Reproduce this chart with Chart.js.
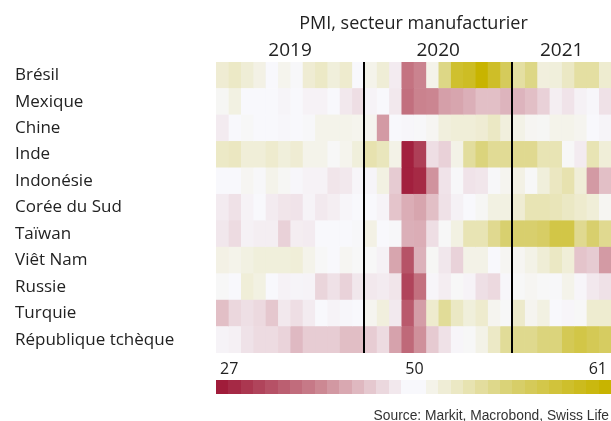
<!DOCTYPE html>
<html>
<head>
<meta charset="utf-8">
<script src="https://cdn.jsdelivr.net/npm/chart.js@4"></script>
<style>
    html, body { margin: 0; padding: 0; background: #fff; }
    canvas { display: block; }
</style>
</head>
<body>
<canvas id="chart" width="611" height="421"></canvas>
<script>
// Categories
const countries = ['Brésil', 'Mexique', 'Chine', 'Inde', 'Indonésie', 'Corée du Sud',
    'Taïwan', 'Viêt Nam', 'Russie', 'Turquie', 'République tchèque'];

const months = [
    '2019-01', '2019-02', '2019-03', '2019-04', '2019-05', '2019-06',
    '2019-07', '2019-08', '2019-09', '2019-10', '2019-11', '2019-12',
    '2020-01', '2020-02', '2020-03', '2020-04', '2020-05', '2020-06',
    '2020-07', '2020-08', '2020-09', '2020-10', '2020-11', '2020-12',
    '2021-01', '2021-02', '2021-03', '2021-04', '2021-05', '2021-06',
    '2021-07', '2021-08'
];

const years = ['2019', '2020', '2021'];

// PMI values (one per month)
const pmiBresil = [51.6, 52.1, 51.5, 50.9, 50.0, 50.6, 50.1, 51.6, 52.1, 51.3, 51.8, 50.0,
    50.7, 51.5, 48.8, 37.0, 38.8, 50.7, 54.6, 58.7, 59.2, 61.0, 59.0, 56.5,
    53.5, 54.6, 51.2, 51.3, 52.2, 53.5, 53.5, 51.7];
const pmiMexique = [50.3, 51.0, 50.0, 50.0, 50.0, 49.6, 50.0, 49.4, 49.4, 50.0, 48.5, 47.5,
    49.5, 50.0, 48.5, 36.5, 38.7, 39.0, 41.5, 42.0, 43.0, 44.5, 44.5, 43.5,
    43.5, 44.5, 46.3, 49.0, 48.0, 49.3, 49.8, 47.8];
const pmiChine = [48.8, 50.0, 50.2, 50.0, 50.0, 49.8, 50.0, 50.1, 50.7, 50.7, 50.7, 50.6,
    50.5, 41.0, 50.0, 49.8, 50.1, 50.4, 51.2, 51.4, 51.4, 51.6, 52.2, 51.2,
    50.8, 50.4, 50.3, 50.7, 50.7, 50.5, 50.0, 49.6];
const pmiInde = [52.1, 52.3, 51.4, 51.4, 51.8, 51.3, 51.6, 50.7, 50.7, 50.2, 50.6, 51.3,
    53.0, 52.5, 50.8, 27.5, 31.0, 47.5, 46.3, 50.8, 53.7, 55.0, 54.0, 54.0,
    54.2, 54.2, 52.8, 52.8, 50.2, 48.8, 52.8, 51.4];
const pmiIndonesie = [50.0, 50.0, 50.4, 50.1, 50.7, 50.3, 49.8, 49.4, 49.4, 48.2, 48.5, 49.7,
    49.6, 51.0, 45.7, 27.5, 28.6, 40.3, 48.0, 50.1, 48.0, 48.3, 50.1, 50.5,
    50.9, 50.2, 51.3, 52.3, 53.0, 51.4, 41.0, 44.5];
const pmiCoree = [48.8, 47.8, 49.4, 50.0, 48.8, 48.2, 48.0, 49.5, 48.6, 49.0, 49.7, 50.0,
    50.0, 49.5, 45.0, 42.8, 42.0, 44.5, 47.8, 49.3, 50.0, 50.3, 51.0, 51.0,
    51.6, 52.8, 52.8, 52.6, 52.2, 51.8, 51.4, 50.4];
const pmiTaiwan = [48.4, 47.2, 49.3, 49.0, 49.0, 46.3, 48.9, 48.8, 50.0, 50.0, 50.0, 50.1,
    50.9, 50.0, 50.1, 43.0, 42.8, 47.5, 50.2, 51.0, 52.8, 52.8, 54.2, 55.5,
    55.6, 55.6, 56.0, 57.5, 57.5, 54.2, 55.6, 54.2];
const pmiVietnam = [50.9, 50.7, 51.0, 51.3, 51.3, 51.3, 51.4, 50.7, 50.2, 50.0, 50.4, 50.2,
    50.2, 49.3, 42.0, 33.3, 43.2, 50.3, 48.4, 46.4, 50.8, 50.8, 50.0, 50.4,
    50.4, 50.8, 51.5, 52.2, 51.4, 45.0, 45.7, 41.0];
const pmiRussie = [50.2, 50.0, 51.4, 51.0, 50.0, 49.4, 49.6, 49.5, 46.6, 47.8, 46.4, 48.4,
    48.5, 48.8, 48.2, 31.6, 36.7, 49.7, 48.9, 50.2, 49.5, 47.6, 47.0, 49.8,
    50.2, 50.4, 50.2, 50.1, 50.7, 49.7, 48.5, 47.8];
const pmiTurquie = [44.5, 46.8, 47.6, 47.0, 45.3, 48.5, 47.5, 48.8, 50.0, 49.5, 49.8, 50.0,
    50.5, 51.2, 48.6, 34.0, 41.3, 51.8, 53.9, 52.2, 51.3, 51.8, 50.5, 50.2,
    51.9, 50.5, 51.0, 50.0, 49.7, 50.2, 51.7, 51.7];
const pmiTcheque = [49.5, 49.2, 47.9, 47.2, 47.2, 46.5, 44.0, 45.8, 45.8, 45.8, 44.4, 44.4,
    45.8, 47.2, 41.8, 35.8, 40.0, 45.6, 47.8, 49.7, 50.2, 50.8, 52.1, 53.9,
    54.3, 54.3, 55.0, 55.0, 56.8, 57.5, 56.8, 56.2];

const rows = [pmiBresil, pmiMexique, pmiChine, pmiInde, pmiIndonesie, pmiCoree,
    pmiTaiwan, pmiVietnam, pmiRussie, pmiTurquie, pmiTcheque];

// Colour scale ticks (diverging around 50)
const scaleMin = 27;
const scaleMid = 50;
const scaleMax = 61;

const colorStops = [
    [27, [160, 28, 58]],
    [38.5, [201, 128, 140]],
    [50, [248, 248, 252]],
    [55.5, [216, 208, 111]],
    [61, [200, 180, 0]]
];

const FONT = '"Open Sans", "DejaVu Sans", sans-serif';
const TEXT = '#222';

function pmiColor(v) {
    v = Math.max(scaleMin, Math.min(scaleMax, v));
    for (let i = 1; i < colorStops.length; i++) {
        const [v0, c0] = colorStops[i - 1];
        const [v1, c1] = colorStops[i];
        if (v <= v1) {
            const t = (v - v0) / (v1 - v0);
            const c = c0.map((x, k) => Math.round(x + (c1[k] - x) * t));
            return `rgb(${c[0]},${c[1]},${c[2]})`;
        }
    }
    return 'rgb(200,180,0)';
}

// Year labels sit in the middle of their months, lines mark each January
const yearTicks = years.map(y => {
    const idx = months.map((m, i) => m.startsWith(y) ? i : -1).filter(i => i >= 0);
    return { value: (idx[0] + idx[idx.length - 1] + 1) / 2, label: y };
});
const yearStarts = months.map((m, i) => (i > 0 && m.endsWith('-01')) ? i : -1).filter(i => i > 0);

// One dataset per month: a floating bar [i, i+1] in every country row
const datasets = months.map((m, i) => ({
    label: m,
    data: countries.map(() => [i, i + 1]),
    backgroundColor: rows.map(r => pmiColor(r[i])),
    borderWidth: 0,
    barPercentage: 1,
    categoryPercentage: 1,
    grouped: false
}));

const overlay = {
    id: 'overlay',
    afterDatasetsDraw(chart) {
        const { ctx, chartArea } = chart;
        const x = chart.scales.x;
        ctx.save();

        // year separators
        ctx.strokeStyle = '#000';
        ctx.lineWidth = 2;
        yearStarts.forEach(i => {
            const px = Math.round(x.getPixelForValue(i));
            ctx.beginPath();
            ctx.moveTo(px, chartArea.top);
            ctx.lineTo(px, chartArea.bottom);
            ctx.stroke();
        });

        // colour bar: 16 steps up to 50, 16 steps above
        const steps = 16;
        const w = (chartArea.right - chartArea.left) / (steps * 2);
        for (let k = 0; k < steps * 2; k++) {
            const v = k < steps
                ? scaleMin + k * (scaleMid - scaleMin) / (steps - 1)
                : scaleMid + (k - steps) * (scaleMax - scaleMid) / (steps - 1);
            ctx.fillStyle = pmiColor(v);
            const x0 = Math.round(chartArea.left + k * w);
            const x1 = Math.round(chartArea.left + (k + 1) * w);
            ctx.fillRect(x0, 380, x1 - x0, 14);
        }

        ctx.fillStyle = TEXT;
        ctx.font = '16px ' + FONT;
        ctx.textBaseline = 'alphabetic';
        ctx.textAlign = 'left';
        ctx.fillText(String(scaleMin), chartArea.left + 4, 374);
        ctx.textAlign = 'center';
        ctx.fillText(String(scaleMid), (chartArea.left + chartArea.right) / 2 + 1, 374);
        ctx.textAlign = 'right';
        ctx.fillText(String(scaleMax), chartArea.right - 4, 374);

        ctx.fillStyle = '#333';
        ctx.font = '13.8px "Liberation Sans", Arial, sans-serif';
        ctx.fillText('Source: Markit, Macrobond, Swiss Life', 609, 420);
        ctx.restore();
    }
};

new Chart(document.getElementById('chart'), {
    type: 'bar',
    data: { labels: countries, datasets },
    options: {
        indexAxis: 'y',
        responsive: false,
        animation: false,
        layout: { padding: { left: 15, right: 0, top: 0, bottom: 68 } },
        plugins: {
            legend: { display: false },
            tooltip: { enabled: false },
            title: {
                display: true,
                text: 'PMI, secteur manufacturier',
                fullSize: false,
                color: TEXT,
                font: { family: FONT, size: 18, weight: 'normal' },
                padding: { top: 13, bottom: 4 }
            }
        },
        scales: {
            y: {
                type: 'category',
                position: 'left',
                grid: { display: false, drawTicks: false },
                border: { display: false },
                ticks: {
                    crossAlign: 'far',
                    autoSkip: false,
                    padding: 0,
                    color: TEXT,
                    font: { family: FONT, size: 17 }
                },
                afterFit: s => { s.width = 201; }
            },
            x: {
                type: 'linear',
                min: 0,
                max: months.length,
                display: false
            },
            x2: {
                type: 'linear',
                axis: 'x',
                position: 'top',
                min: 0,
                max: months.length,
                grid: { display: false, drawTicks: false },
                border: { display: false },
                afterBuildTicks: s => { s.ticks = yearTicks.map(t => ({ value: t.value })); },
                ticks: {
                    autoSkip: false,
                    maxRotation: 0,
                    padding: 0,
                    color: TEXT,
                    font: { family: FONT, size: 19 },
                    callback: (v, i) => yearTicks[i].label
                },
                afterFit: s => { s.height = 23.4; }
            }
        }
    },
    plugins: [overlay]
});
</script>
</body>
</html>
